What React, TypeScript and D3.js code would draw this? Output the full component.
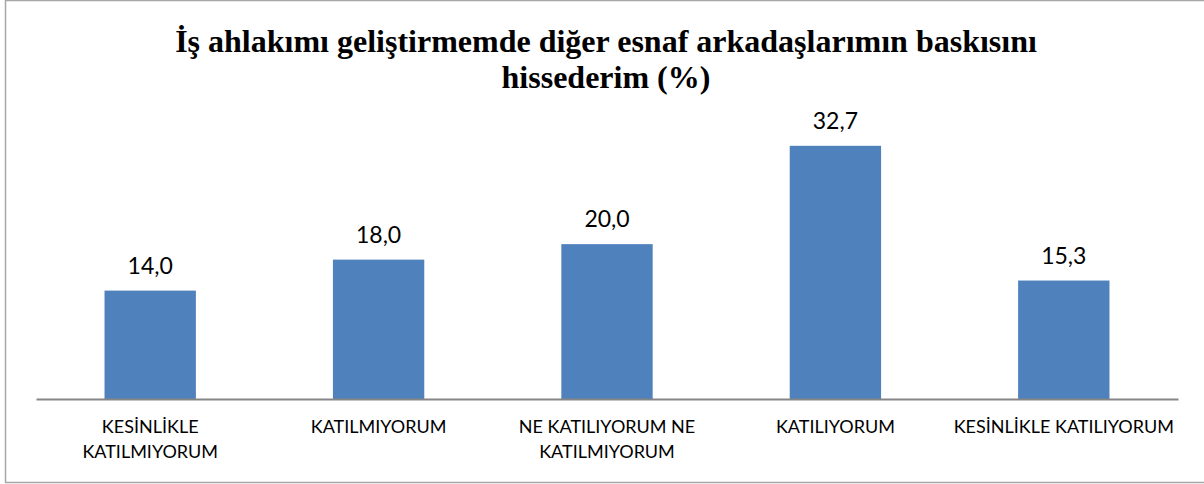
import { useRef, useEffect } from "react";
import * as d3 from "d3";

const titleLines = ["İş ahlakımı geliştirmemde diğer esnaf arkadaşlarımın baskısını", "hissederim (%)"];
const categories = [
	"KESİNLİKLE\nKATILMIYORUM",
	"KATILMIYORUM",
	"NE KATILIYORUM NE\nKATILMIYORUM",
	"KATILIYORUM",
	"KESİNLİKLE KATILIYORUM",
];
const values = [14.0, 18.0, 20.0, 32.7, 15.3];

export default function App() {
	const ref = useRef<HTMLDivElement>(null);

	useEffect(() => {
		document.body.style.margin = "0";
		const width = 1204;
		const height = 484;
		const plot = { left: 36, right: 1178, top: 128, bottom: 399 };

		d3.select(ref.current).selectAll("*").remove();
		const svg = d3
			.select(ref.current)
			.append("svg")
			.attr("width", width)
			.attr("height", height)
			.style("display", "block");

		// ---- Frame ----
		svg.append("rect")
			.attr("x", 5.5)
			.attr("y", 0.5)
			.attr("width", width)
			.attr("height", 482)
			.attr("fill", "#fff")
			.attr("stroke", "#a6a6a6")
			.attr("stroke-width", 1.5);

		// ---- Title ----
		svg.append("text")
			.attr("x", 606)
			.attr("text-anchor", "middle")
			.style("font-family", "'Liberation Serif', 'Times New Roman', serif")
			.style("font-weight", "bold")
			.style("font-size", "32px")
			.style("fill", "#000")
			.selectAll("tspan")
			.data(titleLines)
			.enter()
			.append("tspan")
			.attr("x", 606)
			.attr("y", (d, i) => 52 + i * 36)
			.text((d) => d);

		// ---- Scales ----
		const x = d3
			.scaleBand()
			.domain(categories)
			.range([plot.left, plot.right])
			.paddingInner(0.6)
			.paddingOuter(0.3);

		const y = d3.scaleLinear().domain([0, 35]).range([plot.bottom, plot.top]);

		// ---- Bars ----
		svg.selectAll("rect.bar")
			.data(values)
			.enter()
			.append("rect")
			.attr("class", "bar")
			.attr("x", (d, i) => x(categories[i])!)
			.attr("y", (d) => y(d))
			.attr("width", x.bandwidth())
			.attr("height", (d) => y(0) - y(d))
			.attr("fill", "#4f81bd");

		// ---- Value labels ----
		svg.selectAll("text.val")
			.data(values)
			.enter()
			.append("text")
			.attr("class", "val")
			.attr("x", (d, i) => x(categories[i])! + x.bandwidth() / 2)
			.attr("y", (d) => y(d) - 17)
			.attr("text-anchor", "middle")
			.style("font-family", "Lato, 'Open Sans', sans-serif")
			.style("font-size", "23px")
			.style("fill", "#000")
			.text((d) => d.toFixed(1).replace(".", ","));

		// ---- Axis ----
		const axis = svg
			.append("g")
			.attr("transform", `translate(0,${plot.bottom})`)
			.call(d3.axisBottom(x).tickSize(0).tickSizeOuter(0).tickFormat(() => ""));
		axis.select(".domain").attr("stroke", "#868686").attr("stroke-width", 2);

		// ---- Category labels ----
		const step = x.step();
		categories.forEach((c, i) => {
			const cx = plot.left + step * i + step / 2;
			const t = svg
				.append("text")
				.attr("text-anchor", "middle")
				.style("font-family", "Lato, 'Open Sans', sans-serif")
				.style("font-size", "18px")
				.style("fill", "#000");
			c.split("\n").forEach((line, j) => {
				t.append("tspan")
					.attr("x", cx)
					.attr("y", 433 + j * 25)
					.text(line);
			});
		});
	}, []);

	return <div ref={ref} />;
}
